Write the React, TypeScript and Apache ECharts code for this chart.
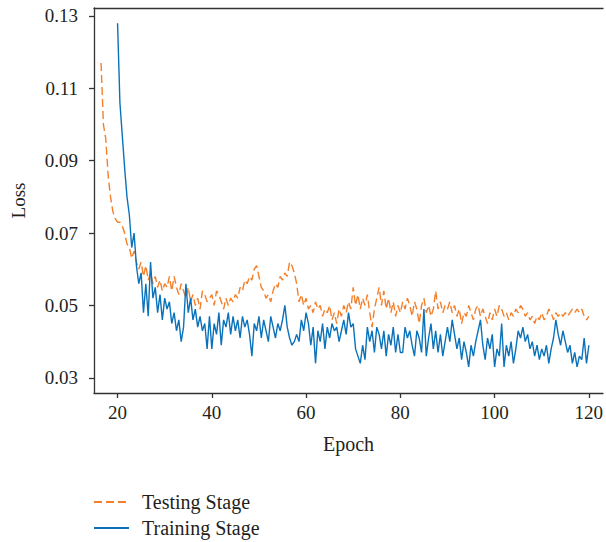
import React, { useEffect, useRef } from "react";
import * as echarts from "echarts";

// Testing stage (orange dashed): epochs start at 16.5, step 0.5
const testStart = 16.5;
const testStep = 0.5;
const testLoss = [
  0.117, 0.100, 0.096, 0.086, 0.080, 0.076, 0.074, 0.073, 0.073, 0.072,
  0.070, 0.067, 0.066, 0.063, 0.065, 0.062, 0.060, 0.062, 0.058, 0.061,
  0.057, 0.059, 0.056, 0.058, 0.055, 0.057, 0.054, 0.056, 0.055, 0.058,
  0.054, 0.058, 0.055, 0.053, 0.056, 0.054, 0.052, 0.055, 0.051, 0.053,
  0.050, 0.052, 0.049, 0.054, 0.053, 0.051, 0.052, 0.053, 0.050, 0.054,
  0.053, 0.051, 0.049, 0.052, 0.050, 0.052, 0.051, 0.053, 0.052, 0.055,
  0.054, 0.057, 0.056, 0.058, 0.057, 0.060, 0.061, 0.058, 0.055, 0.054,
  0.052, 0.053, 0.051, 0.054, 0.056, 0.055, 0.058, 0.057, 0.059, 0.058,
  0.062, 0.061, 0.059, 0.056, 0.051, 0.053, 0.050, 0.052, 0.049, 0.050,
  0.048, 0.051, 0.049, 0.050, 0.047, 0.049, 0.048, 0.050, 0.046, 0.048,
  0.045, 0.049, 0.047, 0.050, 0.048, 0.051, 0.049, 0.055, 0.050, 0.053,
  0.049, 0.052, 0.050, 0.053, 0.048, 0.044, 0.049, 0.052, 0.055, 0.050,
  0.054, 0.049, 0.052, 0.048, 0.051, 0.047, 0.050, 0.048, 0.051, 0.049,
  0.052, 0.050, 0.047, 0.051, 0.049, 0.045, 0.050, 0.052, 0.048, 0.050,
  0.047, 0.049, 0.054, 0.049, 0.051, 0.048, 0.050, 0.049, 0.051, 0.048,
  0.050, 0.047, 0.049, 0.045, 0.048, 0.047, 0.050, 0.048, 0.046, 0.049,
  0.050, 0.047, 0.049, 0.047, 0.045, 0.048, 0.046, 0.049, 0.047, 0.050,
  0.049, 0.047, 0.048, 0.046, 0.048, 0.047, 0.049, 0.048, 0.050, 0.049,
  0.047, 0.048, 0.046, 0.047, 0.045, 0.047, 0.046, 0.048, 0.046, 0.047,
  0.049, 0.048, 0.046, 0.048, 0.047, 0.048, 0.047, 0.048, 0.047, 0.048,
  0.049, 0.048, 0.049, 0.048, 0.049, 0.047, 0.046, 0.047,
];

// Training stage (blue solid): epochs start at 20, step 0.5
const trainStart = 20;
const trainStep = 0.5;
const trainLoss = [
  0.128, 0.106, 0.097, 0.088, 0.080, 0.075, 0.066, 0.070, 0.061, 0.056,
  0.059, 0.048, 0.056, 0.047, 0.062, 0.052, 0.055, 0.048, 0.053, 0.046,
  0.052, 0.049, 0.051, 0.045, 0.048, 0.043, 0.046, 0.040, 0.044, 0.056,
  0.048, 0.052, 0.046, 0.049, 0.044, 0.047, 0.043, 0.045, 0.038, 0.047,
  0.038, 0.045, 0.042, 0.048, 0.039, 0.046, 0.044, 0.048, 0.042, 0.047,
  0.043, 0.046, 0.041, 0.047, 0.044, 0.046, 0.042, 0.036, 0.045, 0.043,
  0.047, 0.041, 0.046, 0.043, 0.040, 0.047, 0.044, 0.041, 0.045, 0.043,
  0.046, 0.050, 0.044, 0.041, 0.039, 0.040, 0.042, 0.040, 0.046, 0.043,
  0.048, 0.045, 0.039, 0.044, 0.034, 0.043, 0.040, 0.045, 0.038, 0.044,
  0.041, 0.045, 0.043, 0.044, 0.040, 0.043, 0.046, 0.042, 0.048, 0.044,
  0.045, 0.038, 0.036, 0.034, 0.039, 0.035, 0.044, 0.040, 0.043, 0.037,
  0.044, 0.042, 0.038, 0.043, 0.036, 0.042, 0.039, 0.044, 0.037, 0.042,
  0.037, 0.037, 0.044, 0.041, 0.043, 0.039, 0.036, 0.043, 0.041, 0.037,
  0.049, 0.036, 0.041, 0.045, 0.038, 0.043, 0.037, 0.042, 0.036, 0.040,
  0.044, 0.040, 0.046, 0.042, 0.038, 0.041, 0.035, 0.040, 0.037, 0.033,
  0.039, 0.036, 0.040, 0.043, 0.046, 0.039, 0.035, 0.041, 0.038, 0.042,
  0.033, 0.038, 0.036, 0.045, 0.033, 0.039, 0.036, 0.040, 0.034, 0.038,
  0.043, 0.041, 0.044, 0.040, 0.042, 0.038, 0.040, 0.036, 0.039, 0.035,
  0.038, 0.036, 0.039, 0.034, 0.038, 0.041, 0.046, 0.042, 0.039, 0.043,
  0.040, 0.037, 0.039, 0.034, 0.037, 0.033, 0.036, 0.035, 0.041, 0.034,
  0.039,
];

const xTicks = [20, 40, 60, 80, 100, 120];
const yTicks = [0.03, 0.05, 0.07, 0.09, 0.11, 0.13];

const FONT = "'Liberation Serif', 'DejaVu Serif', serif";
const TEXT = "#231f20";
const AXIS = "#333333";

export default function App() {
  const ref = useRef<HTMLDivElement>(null);
  useEffect(() => {
    if (!ref.current) return;
    const chart = echarts.init(ref.current, undefined, { renderer: "svg" });
    const testData = testLoss.map((v, i) => [testStart + i * testStep, v]);
    const trainData = trainLoss.map((v, i) => [trainStart + i * trainStep, v]);
    chart.setOption({
      animation: false,
      backgroundColor: "#ffffff",
      textStyle: { fontFamily: FONT },
      grid: { left: 94, right: 3, top: 8, bottom: 149, outerBoundsMode: "none" },
      legend: {
        orient: "vertical",
        left: 93,
        top: 492,
        padding: 0,
        itemWidth: 35,
        itemHeight: 14,
        itemGap: 6,
        itemStyle: { opacity: 0 },
        textStyle: { fontFamily: FONT, fontSize: 20, color: TEXT, lineHeight: 20, padding: [0, 0, 0, 8] },
        data: ["Testing Stage", "Training Stage"],
      },
      xAxis: [
        {
          type: "value",
          min: 15,
          max: 123,
          name: "Epoch",
          nameLocation: "middle",
          nameGap: 41,
          nameTextStyle: { fontFamily: FONT, fontSize: 20, color: TEXT },
          axisLine: { show: true, lineStyle: { color: AXIS, width: 1.3 } },
          axisTick: { show: true, length: 5, customValues: xTicks, lineStyle: { color: AXIS, width: 1.3 } },
          axisLabel: {
            customValues: xTicks,
            margin: 10,
            fontFamily: FONT,
            fontSize: 19,
            color: TEXT,
            formatter: (v: number) => String(v),
          },
          splitLine: { show: false },
        },
        {
          type: "value",
          position: "top",
          min: 15,
          max: 123,
          axisLine: { show: true, lineStyle: { color: AXIS, width: 1.3 } },
          axisTick: { show: false },
          axisLabel: { show: false },
          splitLine: { show: false },
        },
      ],
      yAxis: {
        type: "value",
        min: 0.0258,
        max: 0.1322,
        name: "Loss",
        nameLocation: "middle",
        nameGap: 66,
        nameRotate: 90,
        nameTextStyle: { fontFamily: FONT, fontSize: 19, color: TEXT },
        axisLine: { show: true, lineStyle: { color: AXIS, width: 1.3 } },
        axisTick: { show: true, length: 5, customValues: yTicks, lineStyle: { color: AXIS, width: 1.3 } },
        axisLabel: {
          customValues: yTicks,
          margin: 16,
          fontFamily: FONT,
          fontSize: 19,
          color: TEXT,
          formatter: (v: number) => v.toFixed(2),
        },
        splitLine: { show: false },
      },
      series: [
        {
          name: "Testing Stage",
          type: "line",
          xAxisIndex: 0,
          data: testData,
          showSymbol: false,
          symbol: "none",
          color: "#F47F2A",
          lineStyle: { color: "#F47F2A", width: 1.4, type: [8, 4] },
        },
        {
          name: "Training Stage",
          type: "line",
          xAxisIndex: 0,
          data: trainData,
          showSymbol: false,
          symbol: "none",
          color: "#0A72BA",
          lineStyle: { color: "#0A72BA", width: 1.4 },
        },
      ],
    });
    return () => chart.dispose();
  }, []);
  return (
    <div
      ref={ref}
      style={{ position: "fixed", left: 0, top: 0, width: 606, height: 542, background: "#fff" }}
    />
  );
}
